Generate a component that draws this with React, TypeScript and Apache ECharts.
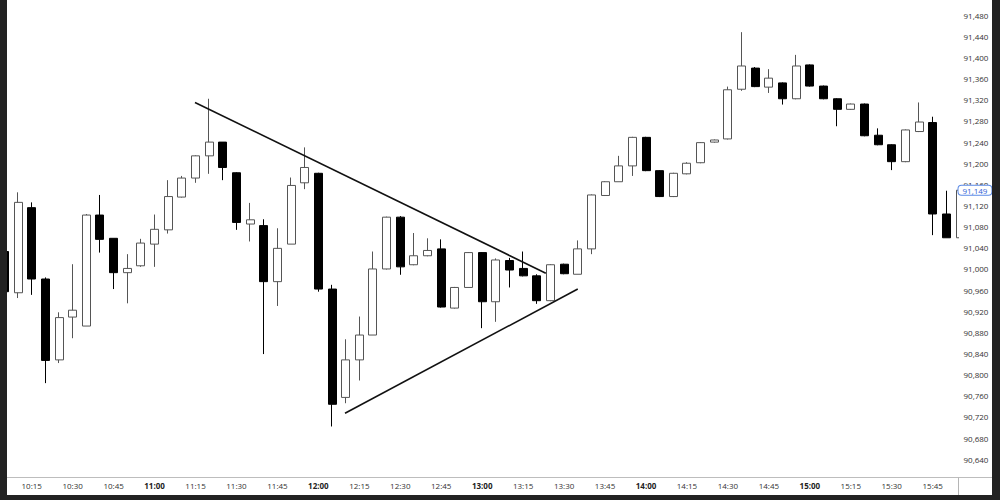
import React, { useEffect, useRef } from "react";
import * as echarts from "echarts";

// 5-minute candles
const times = [
  "10:05", "10:10", "10:15", "10:20", "10:25", "10:30", "10:35", "10:40", "10:45", "10:50", "10:55",
  "11:00", "11:05", "11:10", "11:15", "11:20", "11:25", "11:30", "11:35", "11:40", "11:45", "11:50", "11:55",
  "12:00", "12:05", "12:10", "12:15", "12:20", "12:25", "12:30", "12:35", "12:40", "12:45", "12:50", "12:55",
  "13:00", "13:05", "13:10", "13:15", "13:20", "13:25", "13:30", "13:35", "13:40", "13:45", "13:50", "13:55",
  "14:00", "14:05", "14:10", "14:15", "14:20", "14:25", "14:30", "14:35", "14:40", "14:45", "14:50", "14:55",
  "15:00", "15:05", "15:10", "15:15", "15:20", "15:25", "15:30", "15:35", "15:40", "15:45", "15:50", "15:55",
];
const opens = [
  91033, 90955, 91116, 90981, 90828, 90909, 90892, 91102, 91058, 90993, 91006,
  91047, 91074, 91136, 91172, 91214, 91240, 91182, 91085, 91082, 90976, 91047, 91163,
  91181, 90962, 90757, 90828, 90875, 91000, 91098, 91008, 91025, 91038, 90926, 90965,
  91031, 90938, 91016, 91001, 90987, 90940, 91009, 90990, 91038, 91139, 91165, 91195,
  91249, 91186, 91137, 91180, 91201, 91240, 91246, 91340, 91380, 91344, 91352, 91322,
  91386, 91346, 91322, 91302, 91312, 91253, 91235, 91203, 91260, 91277, 91104, 91059,
];
const closes = [
  90957, 91126, 90981, 90827, 90908, 90922, 91102, 91056, 90993, 91001, 91049,
  91075, 91137, 91172, 91214, 91240, 91192, 91088, 91093, 90976, 91039, 91158, 91192,
  90962, 90744, 90828, 90875, 91000, 91098, 91004, 91025, 91035, 90928, 90965, 91031,
  90938, 91017, 90998, 90987, 90940, 91008, 90991, 91038, 91140, 91165, 91195, 91249,
  91186, 91137, 91181, 91200, 91239, 91244, 91339, 91384, 91345, 91361, 91322, 91384,
  91346, 91322, 91302, 91312, 91252, 91235, 91203, 91263, 91278, 91104, 91059, 91149,
];
const lows = [
  90950, 90945, 90951, 90784, 90822, 90869, 90892, 91031, 90962, 90935, 91004,
  91004, 91067, 91135, 91163, 91180, 91168, 91074, 91052, 90839, 90930, 91047, 91151,
  90957, 90702, 90746, 90789, 90875, 90999, 90989, 91007, 91024, 90927, 90925, 90965,
  90888, 90900, 90965, 90986, 90934, 90939, 90990, 90990, 91028, 91138, 91165, 91176,
  91185, 91136, 91136, 91179, 91200, 91239, 91245, 91337, 91344, 91333, 91311, 91321,
  91345, 91321, 91270, 91301, 91251, 91234, 91187, 91202, 91259, 91064, 91059, 91058,
];
const highs = [
  91040, 91145, 91126, 90984, 90918, 91009, 91104, 91140, 91058, 91028, 91057,
  91103, 91168, 91176, 91215, 91322, 91240, 91183, 91125, 91094, 91077, 91173, 91230,
  91182, 90970, 90867, 90910, 91033, 91099, 91100, 91068, 91058, 91056, 90966, 91032,
  91032, 91020, 91021, 91033, 90990, 91009, 91010, 91054, 91141, 91166, 91214, 91250,
  91250, 91187, 91182, 91202, 91240, 91245, 91345, 91448, 91382, 91378, 91353, 91405,
  91387, 91347, 91323, 91313, 91313, 91266, 91236, 91264, 91315, 91288, 91148, 91150,
];

// x tick labels every 15 minutes, starting 10:00
const xTickLabels = [
  "10:00", "10:15", "10:30", "10:45", "11:00", "11:15", "11:30", "11:45",
  "12:00", "12:15", "12:30", "12:45", "13:00", "13:15", "13:30", "13:45",
  "14:00", "14:15", "14:30", "14:45", "15:00", "15:15", "15:30", "15:45",
];

const lastPrice = 91149;

// trend lines in data units: [slot index, price]
const upperTrend = [[14.96, 91315], [40.66, 90992]];
const lowerTrend = [[25.95, 90727], [43.0, 90962]];

const FONT = "'Open Sans', 'Noto Sans', sans-serif";

const slotOf = (t: string) => {
  const [h, m] = t.split(":").map(Number);
  return (h * 60 + m - 600) / 5;
};
const fmt = (v: number) => Math.round(v).toLocaleString("en-US");

export default function App() {
  const ref = useRef<HTMLDivElement>(null);
  useEffect(() => {
    if (!ref.current) return;
    const chart = echarts.init(ref.current, undefined, { renderer: "svg" });
    const data = times.map((t, i) => [slotOf(t), opens[i], closes[i], lows[i], highs[i]]);
    chart.setOption({
      animation: false,
      backgroundColor: "#ffffff",
      grid: {
        left: -9.25,
        right: 41.5,
        top: -5.9,
        bottom: 19.6,
        containLabel: false,
        outerBoundsMode: "none",
      },
      xAxis: {
        type: "value",
        min: 0,
        max: 70.89,
        interval: 3,
        axisLine: { show: false },
        axisTick: { show: false },
        splitLine: { show: false },
        axisPointer: { show: false },
        axisLabel: {
          showMinLabel: false,
          showMaxLabel: false,
          margin: 1,
          fontSize: 8,
          color: "#333",
          fontFamily: FONT,
          formatter: (v: number) => {
            if (Math.abs(v / 3 - Math.round(v / 3)) > 1e-6) return "";
            const s = xTickLabels[Math.round(v / 3)];
            if (!s) return "";
            return s.endsWith(":00") ? `{b|${s}}` : s;
          },
          rich: {
            b: { fontWeight: "bold", fontSize: 8, color: "#222", fontFamily: FONT },
          },
        },
      },
      yAxis: {
        type: "value",
        position: "right",
        z: 20,
        min: 90600,
        max: 91520,
        interval: 40,
        axisLine: { show: true, lineStyle: { color: "#b5b5b5", width: 1 } },
        axisTick: { show: false },
        splitLine: { show: false },
        axisLabel: {
          showMinLabel: false,
          showMaxLabel: false,
          margin: 5,
          fontSize: 8,
          color: "#333",
          fontFamily: FONT,
          formatter: (v: number) => fmt(v),
        },
        axisPointer: {
          show: true,
          type: "none",
          value: lastPrice,
          status: "show",
          triggerTooltip: false,
          label: {
            show: true,
            margin: 0,
            formatter: (p: any) => fmt(p.value),
            color: "#2f62d6",
            fontSize: 8,
            fontFamily: FONT,
            backgroundColor: "#ffffff",
            borderColor: "#5b8ae6",
            borderWidth: 1,
            padding: [1, 4, 0, 4],
            shadowBlur: 0,
          },
        },
      },
      series: [
        {
          type: "candlestick",
          data,
          encode: { x: 0, y: [1, 2, 3, 4] },
          barWidth: 8.5,
          clip: true,
          itemStyle: {
            color: "#ffffff",
            color0: "#000000",
            borderColor: "#555555",
            borderColor0: "#000000",
            borderWidth: 1,
          },
          markLine: {
            silent: true,
            symbol: ["none", "none"],
            animation: false,
            label: { show: false },
            data: [
              [
                { coord: upperTrend[0], lineStyle: { color: "#111", width: 1.6, type: "solid" } },
                { coord: upperTrend[1] },
              ],
              [
                { coord: lowerTrend[0], lineStyle: { color: "#111", width: 1.6, type: "solid" } },
                { coord: lowerTrend[1] },
              ],
            ],
          },
        },
      ],
      graphic: [
        { type: "rect", z: 10, shape: { x: 959, y: 0, width: 33, height: 477 }, style: { fill: "#ffffff" } },
        { type: "line", z: 90, shape: { x1: 7, y1: 477.5, x2: 992, y2: 477.5 }, style: { stroke: "#bdbdbd", lineWidth: 1 } },
        { type: "line", z: 90, shape: { x1: 958.5, y1: 477.5, x2: 958.5, y2: 495 }, style: { stroke: "#b5b5b5", lineWidth: 1 } },
        { type: "rect", z: 100, shape: { x: 0, y: 0, width: 7, height: 500 }, style: { fill: "#222" } },
        { type: "rect", z: 100, shape: { x: 992, y: 0, width: 8, height: 500 }, style: { fill: "#222" } },
        { type: "rect", z: 100, shape: { x: 0, y: 495, width: 1000, height: 5 }, style: { fill: "#222" } },
      ],
    });
    return () => chart.dispose();
  }, []);
  return (
    <div
      ref={ref}
      style={{ position: "fixed", left: 0, top: 0, width: 1000, height: 500 }}
    />
  );
}
